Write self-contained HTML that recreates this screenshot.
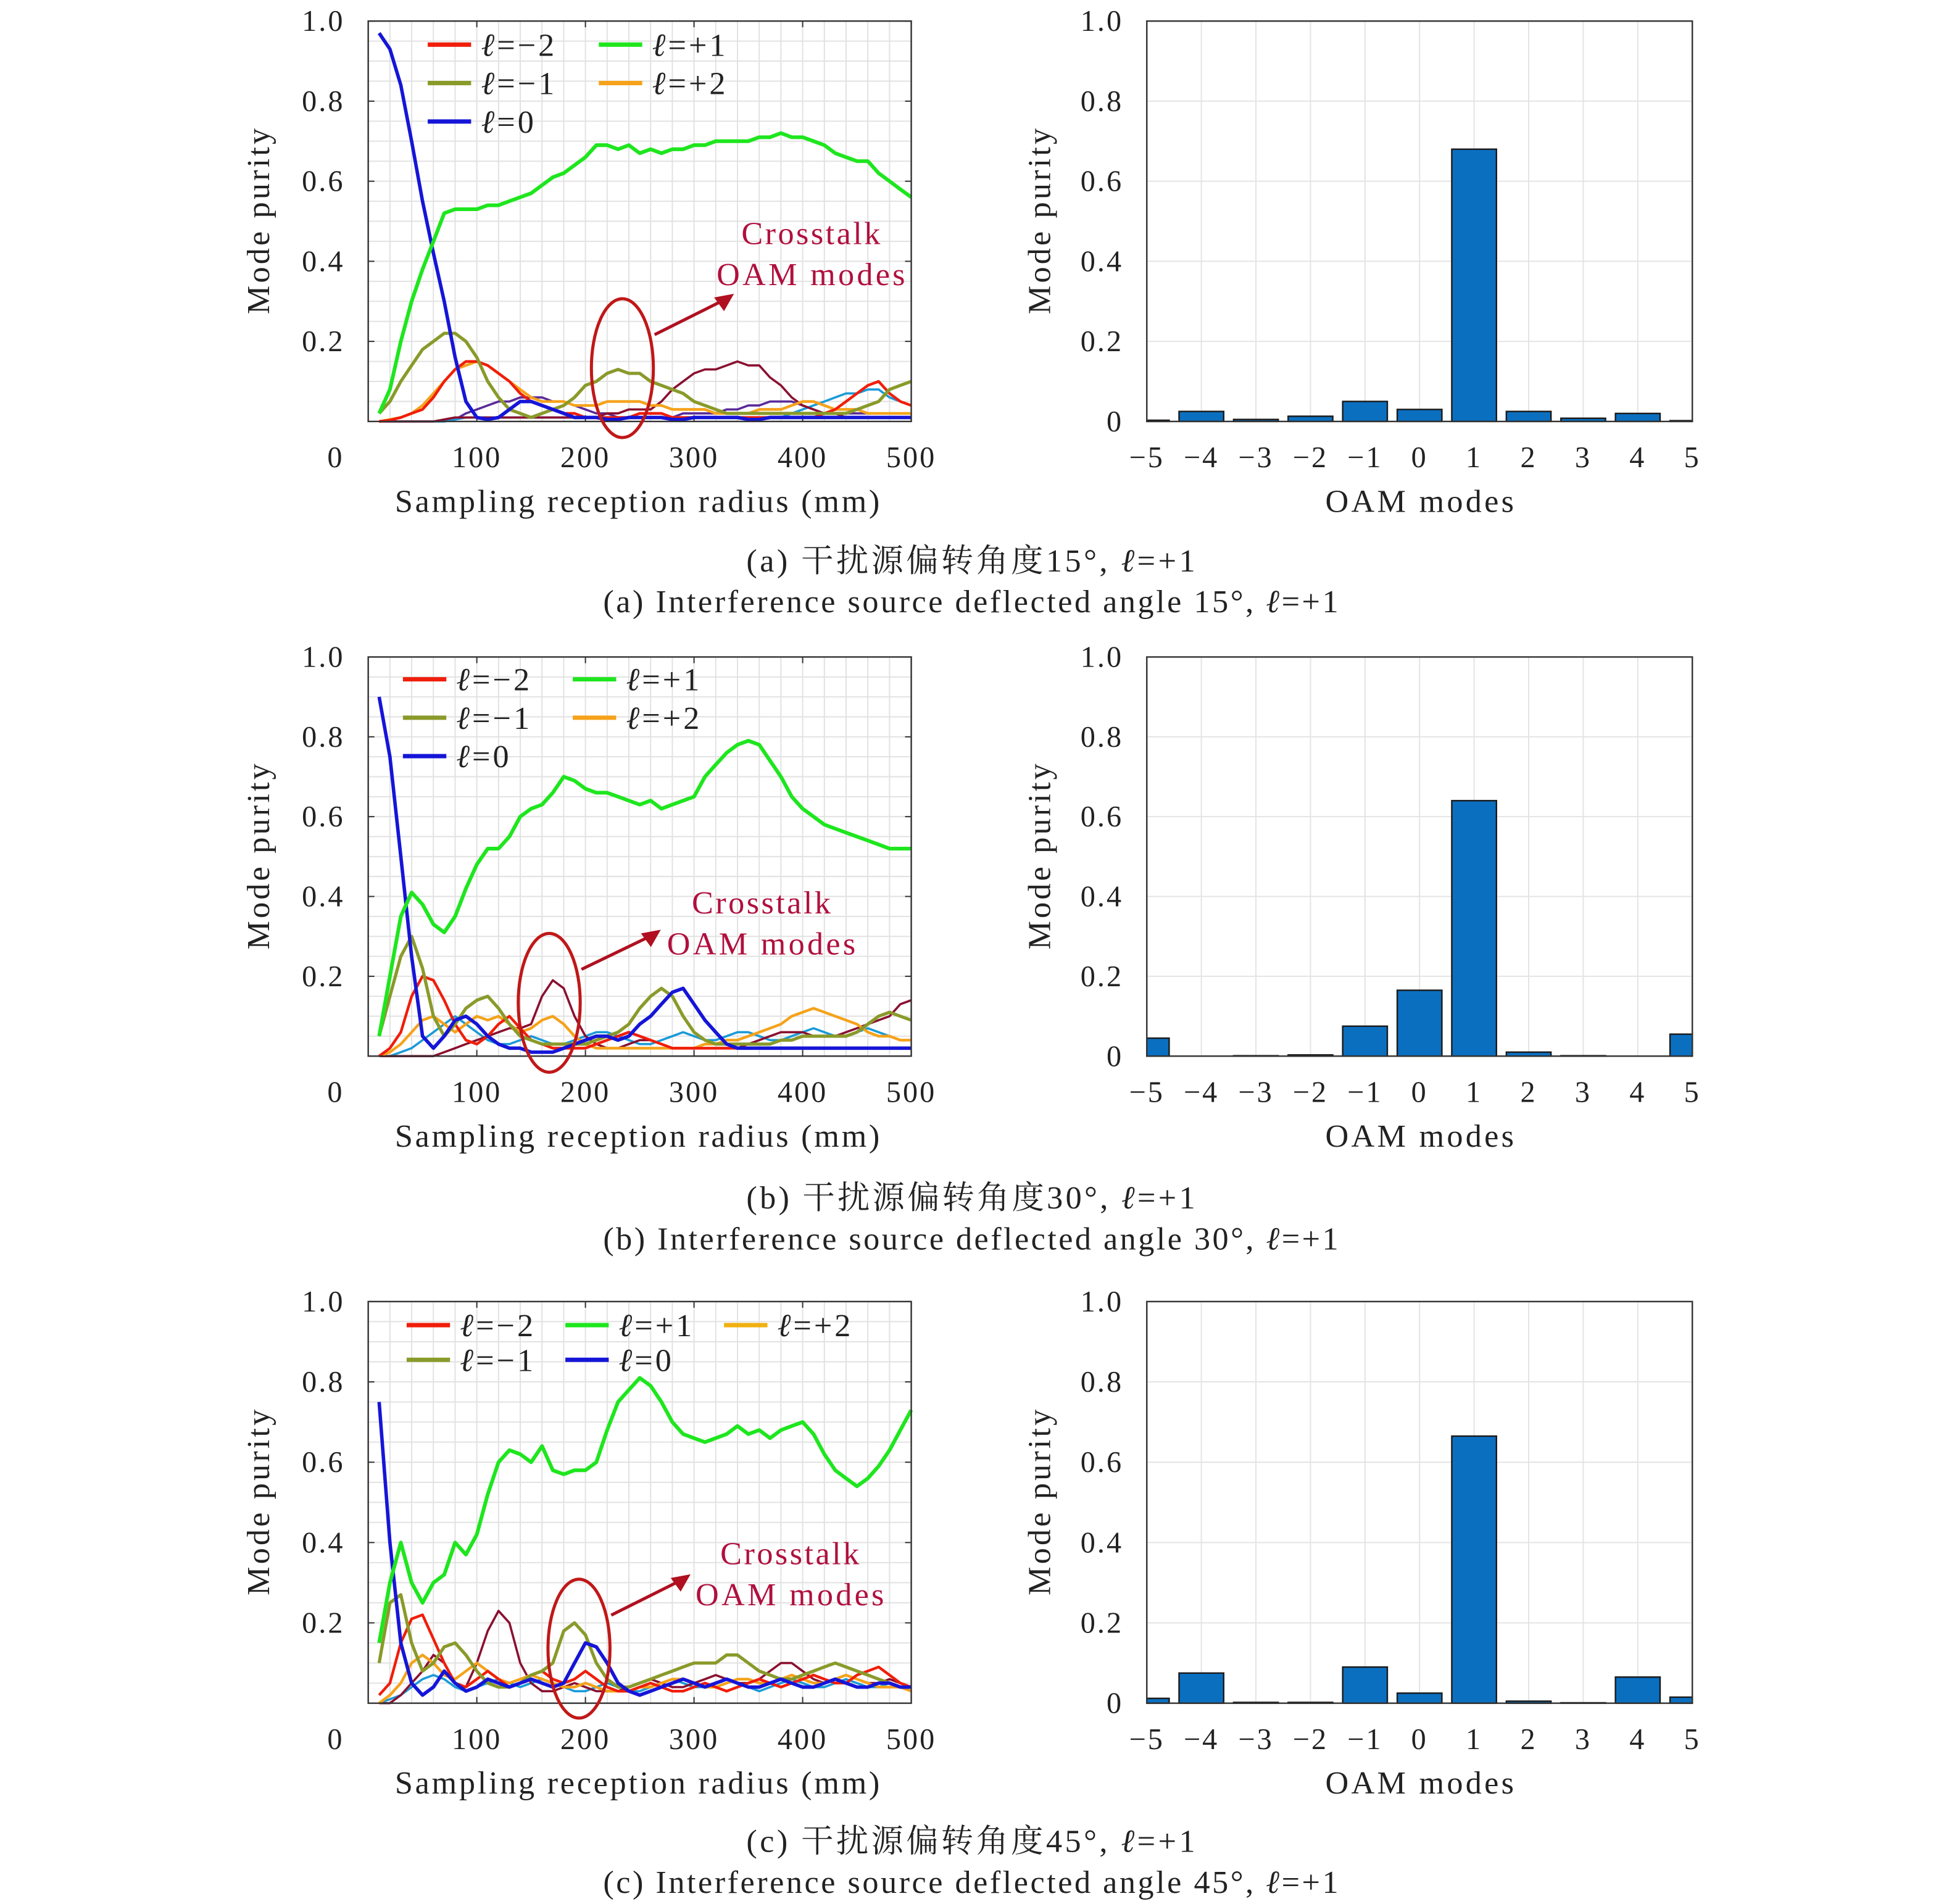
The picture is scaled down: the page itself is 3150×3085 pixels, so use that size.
<!DOCTYPE html>
<html><head><meta charset="utf-8"><style>
html,body{margin:0;padding:0;background:#fff;}
svg{display:block;}
text{font-family:"Liberation Serif","Noto Serif CJK SC",serif;fill:#222;}
</style></head><body>
<svg id="fig" width="3150" height="3085" viewBox="0 0 1568 1536" preserveAspectRatio="none" xmlns="http://www.w3.org/2000/svg"></svg>
<script>
const RADII=[10,20,30,40,50,60,70,80,90,100,110,120,130,140,150,160,170,180,190,200,210,220,230,240,250,260,270,280,290,300,310,320,330,340,350,360,370,380,390,400,410,420,430,440,450,460,470,480,490,500];
const X_TICKS=[100,200,300,400,500];
const Y_TICKS=[0.2,0.4,0.6,0.8,1.0];
const Y_TICK_LABELS=["0.2","0.4","0.6","0.8","1.0"];
const MODES=[-5,-4,-3,-2,-1,0,1,2,3,4,5];
const BAR_Y_TICKS=[0,0.2,0.4,0.6,0.8,1.0];
const BAR_Y_LABELS=["0","0.2","0.4","0.6","0.8","1.0"];
// panel a
const A_P1=[0.02,0.08,0.2,0.3,0.38,0.45,0.52,0.53,0.53,0.53,0.54,0.54,0.55,0.56,0.57,0.59,0.61,0.62,0.64,0.66,0.69,0.69,0.68,0.69,0.67,0.68,0.67,0.68,0.68,0.69,0.69,0.7,0.7,0.7,0.7,0.71,0.71,0.72,0.71,0.71,0.7,0.69,0.67,0.66,0.65,0.65,0.62,0.6,0.58,0.56];
const A_L0=[0.97,0.93,0.84,0.7,0.55,0.42,0.3,0.16,0.05,0.01,0.005,0.01,0.03,0.05,0.05,0.04,0.03,0.02,0.01,0.01,0.01,0.005,0.005,0.01,0.01,0.01,0.01,0.005,0.005,0.01,0.01,0.01,0.01,0.01,0.005,0.005,0.01,0.01,0.01,0.01,0.01,0.01,0.01,0.01,0.01,0.01,0.01,0.01,0.01,0.01];
const A_M1=[0.02,0.05,0.1,0.14,0.18,0.2,0.22,0.22,0.2,0.16,0.1,0.06,0.03,0.02,0.01,0.02,0.03,0.04,0.06,0.09,0.1,0.12,0.13,0.12,0.12,0.1,0.09,0.08,0.07,0.05,0.04,0.03,0.02,0.02,0.02,0.02,0.02,0.02,0.02,0.02,0.02,0.02,0.02,0.02,0.03,0.04,0.05,0.08,0.09,0.1];
const A_M2=[0,0.003,0.01,0.02,0.03,0.06,0.1,0.13,0.15,0.15,0.14,0.12,0.1,0.07,0.05,0.04,0.03,0.02,0.02,0.01,0.01,0.01,0.01,0.01,0.02,0.02,0.02,0.01,0.01,0.01,0.01,0.01,0.01,0.01,0.01,0.01,0.01,0.01,0.01,0.01,0.01,0.02,0.03,0.05,0.07,0.09,0.1,0.07,0.05,0.04];
const A_P2=[0,0.005,0.01,0.02,0.04,0.07,0.1,0.13,0.14,0.15,0.14,0.12,0.1,0.08,0.06,0.05,0.05,0.05,0.04,0.04,0.04,0.05,0.05,0.05,0.05,0.04,0.04,0.03,0.03,0.03,0.03,0.02,0.02,0.02,0.02,0.03,0.03,0.03,0.04,0.05,0.05,0.04,0.03,0.03,0.03,0.02,0.02,0.02,0.02,0.02];
const A_MAR=[0,0,0,0,0,0,0.005,0.01,0.01,0.01,0.01,0.01,0.01,0.01,0.01,0.01,0.01,0.01,0.01,0.01,0.01,0.02,0.02,0.03,0.03,0.03,0.05,0.08,0.1,0.12,0.13,0.13,0.14,0.15,0.14,0.14,0.11,0.09,0.06,0.04,0.03,0.02,0.02,0.01,0.01,0.01,0.01,0.01,0.01,0.01];
const A_CY=[0,0,0,0,0,0,0,0.005,0.01,0.01,0.01,0.01,0.01,0.01,0.01,0.01,0.01,0.01,0.01,0.01,0.01,0.01,0.01,0.01,0.01,0.01,0.01,0.01,0.01,0.01,0.01,0.01,0.01,0.01,0.01,0.01,0.01,0.01,0.02,0.03,0.04,0.05,0.06,0.07,0.07,0.08,0.08,0.06,0.05,0.04];
const A_PU=[0,0,0,0,0,0,0,0.005,0.02,0.03,0.04,0.05,0.05,0.06,0.06,0.06,0.05,0.05,0.04,0.03,0.02,0.02,0.01,0.01,0.01,0.01,0.01,0.01,0.02,0.02,0.02,0.02,0.03,0.03,0.04,0.04,0.05,0.05,0.05,0.04,0.03,0.02,0.02,0.02,0.02,0.02,0.02,0.02,0.02,0.02];
const A_BARS=[0.003,0.025,0.005,0.013,0.05,0.03,0.68,0.025,0.008,0.02,0.002];
// panel b
const B_P1=[0.05,0.2,0.35,0.41,0.38,0.33,0.31,0.35,0.42,0.48,0.52,0.52,0.55,0.6,0.62,0.63,0.66,0.7,0.69,0.67,0.66,0.66,0.65,0.64,0.63,0.64,0.62,0.63,0.64,0.65,0.7,0.73,0.76,0.78,0.79,0.78,0.74,0.7,0.65,0.62,0.6,0.58,0.57,0.56,0.55,0.54,0.53,0.52,0.52,0.52];
const B_L0=[0.9,0.75,0.5,0.25,0.05,0.02,0.05,0.09,0.1,0.08,0.05,0.03,0.02,0.02,0.01,0.01,0.01,0.02,0.03,0.04,0.05,0.05,0.04,0.05,0.08,0.1,0.13,0.16,0.17,0.13,0.09,0.06,0.03,0.02,0.02,0.02,0.02,0.02,0.02,0.02,0.02,0.02,0.02,0.02,0.02,0.02,0.02,0.02,0.02,0.02];
const B_M1=[0.05,0.15,0.25,0.3,0.22,0.1,0.05,0.08,0.12,0.14,0.15,0.12,0.08,0.05,0.04,0.03,0.03,0.03,0.03,0.03,0.04,0.05,0.06,0.08,0.12,0.15,0.17,0.15,0.1,0.06,0.04,0.03,0.03,0.03,0.03,0.03,0.03,0.04,0.04,0.05,0.05,0.05,0.05,0.05,0.06,0.08,0.1,0.11,0.1,0.09];
const B_M2=[0,0.02,0.06,0.15,0.2,0.19,0.14,0.08,0.04,0.03,0.05,0.08,0.1,0.07,0.04,0.03,0.02,0.02,0.02,0.02,0.03,0.04,0.05,0.06,0.05,0.04,0.03,0.02,0.02,0.02,0.02,0.02,0.02,0.02,0.02,0.02,0.02,0.02,0.02,0.02,0.02,0.02,0.02,0.02,0.02,0.02,0.02,0.02,0.02,0.02];
const B_P2=[0,0.01,0.03,0.06,0.09,0.1,0.08,0.06,0.08,0.1,0.09,0.1,0.08,0.06,0.07,0.09,0.1,0.08,0.05,0.03,0.02,0.02,0.02,0.02,0.02,0.02,0.02,0.02,0.02,0.02,0.03,0.03,0.04,0.04,0.05,0.06,0.07,0.08,0.1,0.11,0.12,0.11,0.1,0.09,0.08,0.06,0.05,0.05,0.04,0.04];
const B_MAR=[0,0,0,0,0,0,0.01,0.02,0.03,0.04,0.05,0.06,0.07,0.07,0.08,0.15,0.19,0.17,0.1,0.05,0.03,0.02,0.02,0.03,0.04,0.04,0.03,0.02,0.02,0.02,0.02,0.02,0.02,0.02,0.03,0.04,0.05,0.06,0.06,0.06,0.05,0.05,0.05,0.06,0.07,0.08,0.09,0.1,0.13,0.14];
const B_CY=[0,0,0.01,0.02,0.04,0.06,0.08,0.1,0.08,0.06,0.04,0.03,0.03,0.04,0.05,0.04,0.03,0.03,0.04,0.05,0.06,0.06,0.05,0.04,0.03,0.03,0.04,0.05,0.06,0.05,0.04,0.04,0.05,0.06,0.06,0.05,0.04,0.04,0.05,0.06,0.07,0.06,0.05,0.05,0.06,0.07,0.06,0.05,0.04,0.04];
const B_BARS=[0.045,0,0.001,0.003,0.075,0.165,0.64,0.01,0.001,0,0.055];
// panel c
const C_P1=[0.15,0.3,0.4,0.3,0.25,0.3,0.32,0.4,0.37,0.42,0.52,0.6,0.63,0.62,0.6,0.64,0.58,0.57,0.58,0.58,0.6,0.68,0.75,0.78,0.81,0.79,0.75,0.7,0.67,0.66,0.65,0.66,0.67,0.69,0.67,0.68,0.66,0.68,0.69,0.7,0.67,0.62,0.58,0.56,0.54,0.56,0.59,0.63,0.68,0.73];
const C_L0=[0.75,0.4,0.15,0.05,0.02,0.04,0.08,0.05,0.03,0.04,0.06,0.05,0.04,0.05,0.06,0.05,0.04,0.05,0.1,0.15,0.14,0.1,0.05,0.03,0.02,0.03,0.04,0.05,0.06,0.05,0.04,0.05,0.06,0.05,0.04,0.04,0.05,0.06,0.05,0.04,0.04,0.05,0.06,0.05,0.04,0.04,0.05,0.05,0.04,0.04];
const C_M1=[0.1,0.25,0.27,0.15,0.08,0.1,0.14,0.15,0.12,0.08,0.05,0.04,0.04,0.05,0.07,0.08,0.1,0.18,0.2,0.17,0.1,0.06,0.04,0.04,0.05,0.06,0.07,0.08,0.09,0.1,0.1,0.1,0.12,0.12,0.1,0.08,0.07,0.06,0.06,0.07,0.08,0.09,0.1,0.09,0.08,0.07,0.06,0.05,0.04,0.04];
const C_M2=[0.02,0.05,0.15,0.21,0.22,0.16,0.1,0.05,0.04,0.06,0.08,0.06,0.04,0.05,0.07,0.08,0.06,0.05,0.06,0.08,0.06,0.04,0.03,0.03,0.04,0.05,0.04,0.03,0.03,0.04,0.05,0.04,0.03,0.04,0.05,0.06,0.05,0.04,0.05,0.06,0.07,0.06,0.05,0.05,0.07,0.08,0.09,0.07,0.05,0.04];
const C_P2=[0,0.02,0.05,0.1,0.12,0.1,0.07,0.06,0.08,0.1,0.08,0.06,0.05,0.06,0.07,0.06,0.05,0.04,0.04,0.05,0.04,0.03,0.03,0.03,0.04,0.04,0.05,0.06,0.06,0.05,0.04,0.04,0.05,0.06,0.06,0.05,0.05,0.06,0.07,0.06,0.05,0.05,0.06,0.07,0.06,0.05,0.04,0.04,0.04,0.03];
const C_MAR=[0,0,0.02,0.05,0.08,0.12,0.1,0.05,0.04,0.1,0.18,0.23,0.2,0.1,0.05,0.03,0.03,0.04,0.05,0.04,0.03,0.03,0.03,0.04,0.05,0.06,0.05,0.04,0.04,0.05,0.06,0.07,0.06,0.05,0.05,0.06,0.08,0.1,0.1,0.08,0.06,0.05,0.06,0.07,0.06,0.05,0.05,0.06,0.05,0.04];
const C_CY=[0,0.01,0.02,0.04,0.06,0.07,0.06,0.04,0.03,0.04,0.05,0.06,0.05,0.04,0.05,0.06,0.05,0.04,0.03,0.03,0.04,0.05,0.04,0.03,0.03,0.04,0.05,0.06,0.05,0.04,0.04,0.05,0.06,0.05,0.04,0.03,0.04,0.05,0.06,0.05,0.04,0.04,0.05,0.06,0.05,0.04,0.04,0.05,0.04,0.03];
const C_BARS=[0.012,0.075,0.002,0.002,0.09,0.025,0.665,0.005,0.001,0.065,0.015];

const NS="http://www.w3.org/2000/svg";
const svg=document.getElementById('fig');
function mk(tag,attrs,parent){const e=document.createElementNS(NS,tag);for(const k in attrs)e.setAttribute(k,attrs[k]);(parent||svg).appendChild(e);return e;}
function txt(s,x,y,size,anchor,parent,extra){const t=mk('text',Object.assign({x:x,y:y,'font-size':size,'text-anchor':anchor||'middle'},extra||{}),parent);t.textContent=s;return t;}

const COLORS={p1:'#1ee61e',l0:'#1515d8',m1:'#8a9a2a',m2:'#f01e0a',p2:'#f5a21a',mar:'#8a1030',cy:'#1a9ad8',pu:'#5a2a9a'};
const TICK_LS={'letter-spacing':'1.5'};

function linePlot(top,bottom,series,legend,annot,name){
  const L=297,R=735;
  const g=mk('g',{});
  
  
  const xs=v=>L+(v/500)*(R-L);
  const ys=v=>bottom-v*(bottom-top);
  mk('rect',{x:L,y:top,width:R-L,height:bottom-top,fill:'#fff'},g);
  for(let v=20;v<500;v+=20) mk('line',{x1:xs(v),x2:xs(v),y1:top,y2:bottom,stroke:'#e2e2e2','stroke-width':1},g);
  for(let v=0.05;v<1;v+=0.05) mk('line',{x1:L,x2:R,y1:ys(v),y2:ys(v),stroke:'#e2e2e2','stroke-width':1},g);
  X_TICKS.forEach(v=>{mk('line',{x1:xs(v),x2:xs(v),y1:bottom,y2:bottom-5,stroke:'#333'},g);mk('line',{x1:xs(v),x2:xs(v),y1:top,y2:top+5,stroke:'#333'},g);
    const t=txt(String(v),xs(v),bottom+37,24,'middle',g,TICK_LS);});
  Y_TICKS.forEach((v,i)=>{mk('line',{x1:L,x2:L+5,y1:ys(v),y2:ys(v),stroke:'#333'},g);mk('line',{x1:R,x2:R-5,y1:ys(v),y2:ys(v),stroke:'#333'},g);
    const t=txt(Y_TICK_LABELS[i],278,ys(v)+8,24,'end',g,TICK_LS);});
  txt('0',270,bottom+37,24,'middle',g);
  series.forEach(s=>{
    const pts=RADII.map((r,i)=>xs(r).toFixed(1)+','+ys(s.data[i]).toFixed(1)).join(' ');
    const pl=mk('polyline',{points:pts,fill:'none',stroke:s.color,'stroke-width':s.w||2.2,'stroke-linejoin':'round'},g);
    
    
  });
  mk('rect',{x:L,y:top,width:R-L,height:bottom-top,fill:'none',stroke:'#333','stroke-width':1.2},g);
  legend.forEach(e=>{
    const lg=mk('g',{},g);
    
    
    mk('line',{x1:e.x,x2:e.x+35,y1:e.y,y2:e.y,stroke:e.c,'stroke-width':3.5},lg);
    const t=mk('text',{x:e.x+43,y:e.y+9,'font-size':26,'letter-spacing':'2'},lg);
    const it=mk('tspan',{'font-style':'italic'},t);it.textContent='ℓ';
    const rest=mk('tspan',{},t);rest.textContent=e.t;
  });
  const an=mk('g',{},g);
  
  
  mk('ellipse',{cx:annot.cx,cy:annot.cy,rx:25,ry:56,fill:'none',stroke:'#c01818','stroke-width':2.5},an);
  mk('line',{x1:annot.cx+26,y1:annot.cy-27,x2:annot.ax-8,y2:annot.ay+5,stroke:'#b01020','stroke-width':2.5},an);
  mk('polygon',{points:`${annot.ax},${annot.ay} ${annot.ax-16},${annot.ay+3} ${annot.ax-8},${annot.ay+14}`,fill:'#b01020'},an);
  txt('Crosstalk',annot.tx,annot.ty,26,'middle',an,{style:'fill:#b0103e',textLength:112,lengthAdjust:'spacing'});
  txt('OAM modes',annot.tx,annot.ty+33,26,'middle',an,{style:'fill:#b0103e',textLength:152,lengthAdjust:'spacing'});
  const yl=txt('Mode purity',217,(top+bottom)/2,26,'middle',g,{transform:`rotate(-90 217 ${(top+bottom)/2})`,textLength:150,lengthAdjust:'spacing'});
  
  const xl=txt('Sampling reception radius (mm)',514,bottom+73,26,'middle',g,{textLength:391,lengthAdjust:'spacing'});
  
}

function barPlot(top,bottom,vals,name){
  const L=925,R=1365;
  const g=mk('g',{});
  
  
  const xs=m=>L+(m+5)*(R-L)/10;
  const ys=v=>bottom-v*(bottom-top);
  mk('rect',{x:L,y:top,width:R-L,height:bottom-top,fill:'#fff'},g);
  MODES.forEach(m=>mk('line',{x1:xs(m),x2:xs(m),y1:top,y2:bottom,stroke:'#e4e4e4'},g));
  BAR_Y_TICKS.forEach(v=>mk('line',{x1:L,x2:R,y1:ys(v),y2:ys(v),stroke:'#e4e4e4'},g));
  MODES.forEach((m,i)=>{
    let x0=xs(m)-18,x1=xs(m)+18;x0=Math.max(x0,L);x1=Math.min(x1,R);
    const v=vals[i];
    const b=mk('rect',{x:x0,y:ys(v),width:x1-x0,height:Math.max(bottom-ys(v),0),fill:'#0b6fc0',stroke:'#1a1a1a','stroke-width':1.2},g);
    
    
    const t=txt(String(m).replace('-','−'),xs(m),bottom+37,24,'middle',g,TICK_LS);
    
  });
  BAR_Y_TICKS.forEach((v,i)=>{
    const t=txt(BAR_Y_LABELS[i],906,ys(v)+8,24,'end',g,TICK_LS);
    
  });
  mk('rect',{x:L,y:top,width:R-L,height:bottom-top,fill:'none',stroke:'#333','stroke-width':1.2},g);
  const yl=txt('Mode purity',847,(top+bottom)/2,26,'middle',g,{transform:`rotate(-90 847 ${(top+bottom)/2})`,textLength:150,lengthAdjust:'spacing'});
  
  const xl=txt('OAM modes',1145,bottom+73,26,'middle',g,{textLength:152,lengthAdjust:'spacing'});
  
}

function caption(cn,en,y,name){
  const c1=mk('text',{x:783,y:y,'font-size':26,'text-anchor':'middle',textLength:362,lengthAdjust:'spacing'});
  
  c1.textContent=cn+', ';
  let s=mk('tspan',{'font-style':'italic'},c1);s.textContent='ℓ';
  s=mk('tspan',{},c1);s.textContent='=+1';
  const c2=mk('text',{x:783,y:y+33,'font-size':26,'text-anchor':'middle',textLength:593,lengthAdjust:'spacing'});
  
  c2.textContent=en+', ';
  s=mk('tspan',{'font-style':'italic'},c2);s.textContent='ℓ';
  s=mk('tspan',{},c2);s.textContent='=+1';
}

function ser(p1,l0,m1,m2,p2,mar,cy,pu){
  const a=[{key:'cyan',data:cy,color:COLORS.cy,w:1.8},{key:'maroon',data:mar,color:COLORS.mar,w:1.8},{key:'l-plus2',data:p2,color:COLORS.p2},{key:'l-minus2',data:m2,color:COLORS.m2},{key:'l-minus1',data:m1,color:COLORS.m1,w:2.6},{key:'l-0',data:l0,color:COLORS.l0,w:2.8},{key:'l-plus1',data:p1,color:COLORS.p1,w:3}];
  if(pu)a.unshift({key:'purple',data:pu,color:COLORS.pu,w:1.8});
  return a;
}

linePlot(17,340,ser(A_P1,A_L0,A_M1,A_M2,A_P2,A_MAR,A_CY,A_PU),
 [{x:345,y:36,c:COLORS.m2,t:'=−2'},{x:345,y:67,c:COLORS.m1,t:'=−1'},{x:345,y:98,c:COLORS.l0,t:'=0'},{x:483,y:36,c:COLORS.p1,t:'=+1'},{x:483,y:67,c:COLORS.p2,t:'=+2'}],
 {cx:502,cy:297,ax:592,ay:237,tx:654,ty:197},'panel-a');
barPlot(17,340,A_BARS,'panel-a');
caption('(a) 干扰源偏转角度15°','(a) Interference source deflected angle 15°',461,'panel-a');

linePlot(530,852,ser(B_P1,B_L0,B_M1,B_M2,B_P2,B_MAR,B_CY),
 [{x:325,y:548,c:COLORS.m2,t:'=−2'},{x:325,y:579,c:COLORS.m1,t:'=−1'},{x:325,y:610,c:COLORS.l0,t:'=0'},{x:462,y:548,c:COLORS.p1,t:'=+1'},{x:462,y:579,c:COLORS.p2,t:'=+2'}],
 {cx:443,cy:809,ax:533,ay:750,tx:614,ty:737},'panel-b');
barPlot(530,852,B_BARS,'panel-b');
caption('(b) 干扰源偏转角度30°','(b) Interference source deflected angle 30°',975,'panel-b');

linePlot(1050,1374,ser(C_P1,C_L0,C_M1,C_M2,C_P2,C_MAR,C_CY),
 [{x:328,y:1069,c:COLORS.m2,t:'=−2'},{x:328,y:1097,c:COLORS.m1,t:'=−1'},{x:456,y:1069,c:COLORS.p1,t:'=+1'},{x:456,y:1097,c:COLORS.l0,t:'=0'},{x:584,y:1069,c:'#f0b010',t:'=+2'}],
 {cx:467,cy:1330,ax:557,ay:1270,tx:637,ty:1262},'panel-c');
barPlot(1050,1374,C_BARS,'panel-c');
caption('(c) 干扰源偏转角度45°','(c) Interference source deflected angle 45°',1494,'panel-c');
</script>
</body></html>
